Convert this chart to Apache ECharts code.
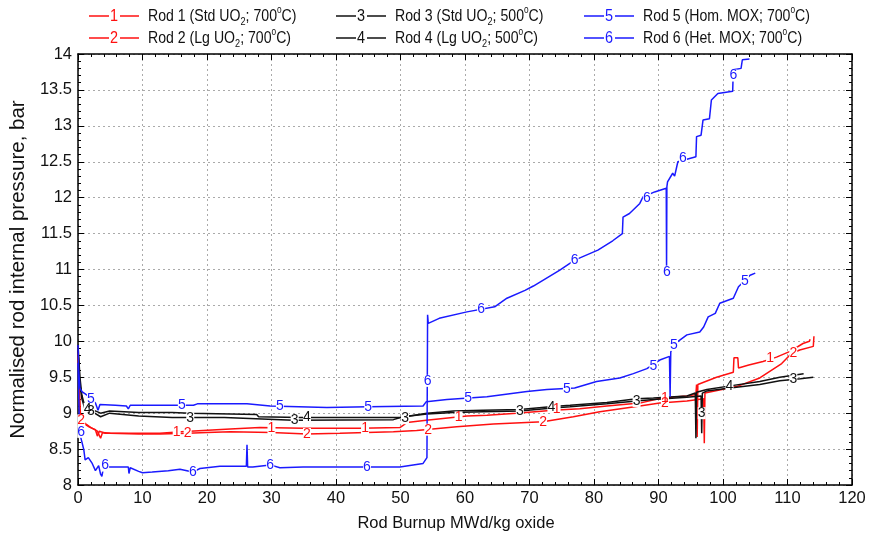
<!DOCTYPE html>
<html>
<head>
<meta charset="utf-8">
<script src="https://cdn.jsdelivr.net/npm/echarts@6/dist/echarts.min.js"></script>
<style>
  html, body { margin: 0; padding: 0; background: #fff; }
  #main { width: 877px; height: 547px; }
</style>
</head>
<body>
<div id="main"></div>
<script>
var FONT = '"Liberation Sans Narrow", "Liberation Sans", Arial, sans-serif';

// burnup (MWd/kg oxide), normalised pressure (bar)
var rod1 = [[0,9.95],[0.2,9.3],[0.4,8.95],[1.0,8.85],[1.7,8.81],[2.7,8.77],[3.0,8.68],[3.3,8.75],[4.2,8.72],[6,8.72],[9.4,8.72],[12.7,8.72],[16,8.74],[19.4,8.76],[23.6,8.78],[28.2,8.8],[35,8.79],[43.7,8.79],[49.9,8.8],[50.4,8.83],[51,8.87],[54,8.9],[60.3,8.96],[63.4,8.97],[68,9.0],[73.7,9.04],[77.8,9.06],[82,9.1],[87.1,9.14],[90,9.2],[92,9.22],[94.4,9.24],[95.8,9.26],[95.9,9.4],[96.0,8.67],[96.1,9.4],[99,9.5],[101.6,9.57],[101.7,9.77],[102.3,9.77],[102.4,9.63],[104,9.67],[106.2,9.72],[108.3,9.78],[110.4,9.86],[112.4,9.97],[113.4,10.0],[113.5,10.03]];
var rod2 = [[0,9.9],[0.3,9.0],[0.5,8.9],[1.2,8.85],[2,8.8],[3,8.75],[3.5,8.65],[3.8,8.73],[5,8.72],[9.4,8.71],[12.7,8.71],[17,8.72],[20,8.73],[23.6,8.74],[30,8.73],[35.5,8.71],[40.6,8.72],[48.9,8.74],[52.5,8.76],[55,8.78],[58.7,8.81],[64.4,8.85],[64.5,8.83],[72.1,8.88],[76.8,8.95],[80.9,9.02],[87.1,9.1],[90.2,9.14],[94.4,9.17],[97,9.2],[97.1,8.58],[97.2,9.28],[102.1,9.37],[105.7,9.49],[109.1,9.69],[110.6,9.83],[111.9,9.88],[114,9.93],[114.1,10.07]];
var rod3 = [[0,9.9],[0.3,9.4],[0.6,9.2],[1.1,9.05],[2.2,9.02],[3.5,8.95],[4.9,9.0],[9.4,8.96],[14.6,8.94],[22.7,8.94],[33.4,8.9],[48.9,8.91],[50.4,8.95],[54.1,8.99],[58.2,9.01],[62.8,9.02],[68.5,9.03],[73.2,9.07],[76.3,9.09],[82,9.13],[86.6,9.17],[89.2,9.19],[94.4,9.22],[96.6,9.24],[96.7,8.72],[96.8,9.28],[97.5,9.31],[101.1,9.35],[105.7,9.4],[108.8,9.45],[112,9.48],[114,9.5]];
var rod4 = [[0,9.95],[0.3,9.5],[0.6,9.25],[1.1,9.08],[2.2,9.05],[3.5,9.0],[4.9,9.03],[9.4,9.01],[14.6,9.01],[17.4,9.0],[27.7,8.98],[28,8.95],[34.4,8.94],[43.7,8.94],[49.9,8.94],[54.1,9.0],[58.2,9.03],[62.8,9.04],[68.5,9.05],[73.2,9.09],[76.3,9.11],[82,9.15],[86.6,9.2],[89.2,9.21],[94.4,9.24],[95.7,9.28],[95.8,8.65],[95.9,9.29],[97.5,9.33],[101.1,9.38],[105.7,9.44],[108.8,9.5],[112.5,9.55]];
var rod5 = [[0,9.95],[0.1,9.6],[0.3,9.35],[0.6,9.3],[1.4,9.25],[2.7,9.14],[3.1,9.04],[3.4,9.12],[5.8,9.11],[7.5,9.1],[7.8,9.06],[8.1,9.11],[12.7,9.11],[17.9,9.11],[18.5,9.13],[26.2,9.13],[29.8,9.1],[38.6,9.08],[45,9.09],[53.5,9.1],[54,9.16],[57.2,9.19],[63.4,9.23],[69.6,9.3],[72.7,9.33],[77,9.35],[80.4,9.44],[84,9.49],[86.1,9.55],[88.2,9.62],[90.2,9.74],[91.7,9.79],[91.8,9.23],[91.9,9.85],[92.3,9.95],[94.4,10.09],[96.4,10.13],[97,10.2],[97.7,10.34],[98.8,10.39],[99.5,10.53],[101.6,10.6],[102.4,10.76],[104.2,10.92],[105,10.95]];
var rod6 = [[0,9.7],[0.2,8.9],[0.4,8.67],[0.6,8.6],[0.9,8.49],[1.1,8.35],[1.6,8.38],[2.2,8.3],[2.7,8.2],[3.2,8.27],[3.5,8.15],[3.7,8.12],[4.0,8.27],[4.8,8.25],[6.8,8.25],[7.8,8.25],[7.9,8.16],[8.1,8.24],[9.4,8.19],[10,8.17],[11.5,8.18],[14,8.2],[15.8,8.22],[17.8,8.18],[18.9,8.23],[22,8.26],[26.1,8.26],[26.2,8.56],[26.3,8.25],[27.1,8.25],[29.8,8.28],[31.3,8.24],[34.9,8.25],[43.7,8.25],[49.9,8.25],[53.5,8.3],[54.1,8.38],[54.2,10.37],[54.3,10.25],[56,10.32],[60.3,10.41],[64.6,10.48],[66.5,10.6],[69.3,10.71],[70.6,10.77],[74.7,10.99],[77,11.13],[80.6,11.27],[82.9,11.4],[84.4,11.5],[84.5,11.73],[85.5,11.78],[87.1,11.92],[87.6,12.01],[89.4,12.08],[91.2,12.13],[91.25,11.04],[91.3,12.15],[91.4,12.22],[92.2,12.34],[92.5,12.3],[92.8,12.42],[93,12.5],[95.8,12.57],[95.9,12.85],[96.6,12.87],[96.9,13.08],[97.9,13.1],[98.2,13.36],[99.2,13.45],[101.5,13.48],[101.6,13.78],[102.8,13.8],[103,13.92],[104.1,13.93]];

// where the rod numbers sit on the curves
var rod1Marks = [[15.3,8.74],[30,8.79],[44.5,8.79],[59,8.94],[74.2,9.05],[91,9.21],[107.3,9.76]];
var rod2Marks = [[0.5,8.9],[17,8.72],[35.5,8.71],[54.3,8.77],[72.1,8.88],[91,9.14],[110.9,9.84]];
var rod3Marks = [[2,9.03],[17.4,8.93],[33.6,8.9],[50.7,8.93],[68.5,9.03],[86.6,9.17],[96.7,9.0],[110.9,9.47]];
var rod4Marks = [[1.5,9.06],[35.5,8.94],[73.4,9.09],[101,9.38]];
var rod5Marks = [[2,9.2],[16.1,9.11],[31.3,9.1],[45,9.09],[60.5,9.21],[75.8,9.34],[89.2,9.66],[92.4,9.95],[103.4,10.84]];
var rod6Marks = [[0.5,8.74],[4.2,8.27],[17.8,8.18],[29.8,8.28],[44.8,8.25],[54.2,9.45],[62.5,10.45],[77,11.13],[88.2,12.0],[91.3,10.97],[93.8,12.55],[101.6,13.7]];

var rodNames = ['Rod 1 (Std UO_2; 700^oC)', 'Rod 2 (Lg UO_2; 700^oC)', 'Rod 3 (Std UO_2; 500^oC)',
                'Rod 4 (Lg UO_2; 500^oC)', 'Rod 5 (Hom. MOX; 700^oC)', 'Rod 6 (Het. MOX; 700^oC)'];
var rodColors = ['#ff1010', '#ff1010', '#111111', '#111111', '#1a1aff', '#1a1aff'];
var rodData = [rod1, rod2, rod3, rod4, rod5, rod6];
var rodMarks = [rod1Marks, rod2Marks, rod3Marks, rod4Marks, rod5Marks, rod6Marks];

var chart = echarts.init(document.getElementById('main'));

function richName(s) {
    return '{t|' + s.replace('_2', '}{sub|2}{t|').replace('^o', '}{sup|o}{t|') + '}';
}

// hand made legend: —1— Rod 1 (...)
var legendCols = [89, 336, 584];
var legendRows = [16, 38];
var legendItems = rodNames.map(function (name, i) {
    var c = rodColors[i];
    return {
        type: 'group',
        x: legendCols[Math.floor(i / 2)],
        y: legendRows[i % 2],
        children: [
            { type: 'line', shape: { x1: 0, y1: 0, x2: 20, y2: 0 }, style: { stroke: c, lineWidth: 1.5 } },
            { type: 'text', x: 25, y: 0, scaleX: 0.85, style: { text: String(i + 1), fill: c, fontFamily: FONT, fontSize: 17, align: 'center', verticalAlign: 'middle' } },
            { type: 'line', shape: { x1: 31, y1: 0, x2: 50, y2: 0 }, style: { stroke: c, lineWidth: 1.5 } },
            { type: 'text', x: 59, y: 0, scaleX: 0.83, style: {
                text: richName(name), verticalAlign: 'middle', fill: '#111',
                rich: {
                    t: { fontFamily: FONT, fontSize: 17, fill: '#111', lineHeight: 22, verticalAlign: 'middle' },
                    sub: { fontFamily: FONT, fontSize: 11, fill: '#111', lineHeight: 22, verticalAlign: 'bottom' },
                    sup: { fontFamily: FONT, fontSize: 10, fill: '#111', lineHeight: 22, verticalAlign: 'top' }
                }
            } }
        ]
    };
});

var axisLineStyle = { color: '#000', width: 1.5 };
var tickStyle = { color: '#000', width: 1 };

var series = rodData.map(function (d, i) {
    return {
        name: rodNames[i],
        type: 'line',
        xAxisIndex: 0,
        yAxisIndex: 0,
        data: d,
        showSymbol: false,
        symbol: 'none',
        silent: true,
        lineStyle: { color: rodColors[i], width: 1.5 },
        itemStyle: { color: rodColors[i] },
        markPoint: {
            symbol: 'rect',
            symbolSize: [8, 12],
            itemStyle: { color: '#fff' },
            label: { show: true, position: 'inside', color: rodColors[i], fontFamily: FONT, fontSize: 14, formatter: String(i + 1) },
            data: rodMarks[i].map(function (p) { return { coord: p }; })
        }
    };
});

var option = {
    animation: false,
    backgroundColor: '#fff',
    grid: { left: 78, right: 25, top: 54, bottom: 62 },
    graphic: legendItems,
    xAxis: [{
        type: 'value', min: 0, max: 120, interval: 10, position: 'bottom',
        name: 'Rod Burnup MWd/kg oxide', nameLocation: 'middle', nameGap: 30,
        nameTextStyle: { fontFamily: FONT, fontSize: 16.5, color: '#111', padding: [0, 18, 0, 0] },
        axisLine: { onZero: false, lineStyle: axisLineStyle },
        axisTick: { inside: true, length: 6, lineStyle: tickStyle },
        minorTick: { show: true, splitNumber: 5, length: 3, lineStyle: tickStyle },
        axisLabel: { fontFamily: FONT, fontSize: 16.5, color: '#111', margin: 5 },
        splitLine: { show: true, lineStyle: { color: '#aaa', type: [2, 3], width: 1 } }
    }, {
        type: 'value', min: 0, max: 120, interval: 10, position: 'top',
        axisLine: { onZero: false, lineStyle: axisLineStyle },
        axisTick: { inside: true, length: 6, lineStyle: tickStyle },
        minorTick: { show: true, splitNumber: 5, length: 3, lineStyle: tickStyle },
        axisLabel: { show: false },
        splitLine: { show: false }
    }],
    yAxis: [{
        type: 'value', min: 8, max: 14, interval: 0.5, position: 'left',
        name: 'Normalised rod internal pressure, bar', nameLocation: 'middle', nameGap: 40,
        nameTextStyle: { fontFamily: '"Liberation Sans", Arial, sans-serif', fontSize: 20.5, color: '#111' },
        axisLine: { onZero: false, lineStyle: axisLineStyle },
        axisTick: { inside: true, length: 6, lineStyle: tickStyle },
        minorTick: { show: true, splitNumber: 5, length: 3, lineStyle: tickStyle },
        axisLabel: { fontFamily: FONT, fontSize: 16.5, color: '#111', margin: 6 },
        splitLine: { show: true, lineStyle: { color: '#aaa', type: [2, 3], width: 1 } }
    }, {
        type: 'value', min: 8, max: 14, interval: 0.5, position: 'right',
        axisLine: { onZero: false, lineStyle: axisLineStyle },
        axisTick: { inside: true, length: 6, lineStyle: tickStyle },
        minorTick: { show: true, splitNumber: 5, length: 3, lineStyle: tickStyle },
        axisLabel: { show: false },
        splitLine: { show: false }
    }],
    series: series
};

chart.setOption(option);
</script>
</body>
</html>
